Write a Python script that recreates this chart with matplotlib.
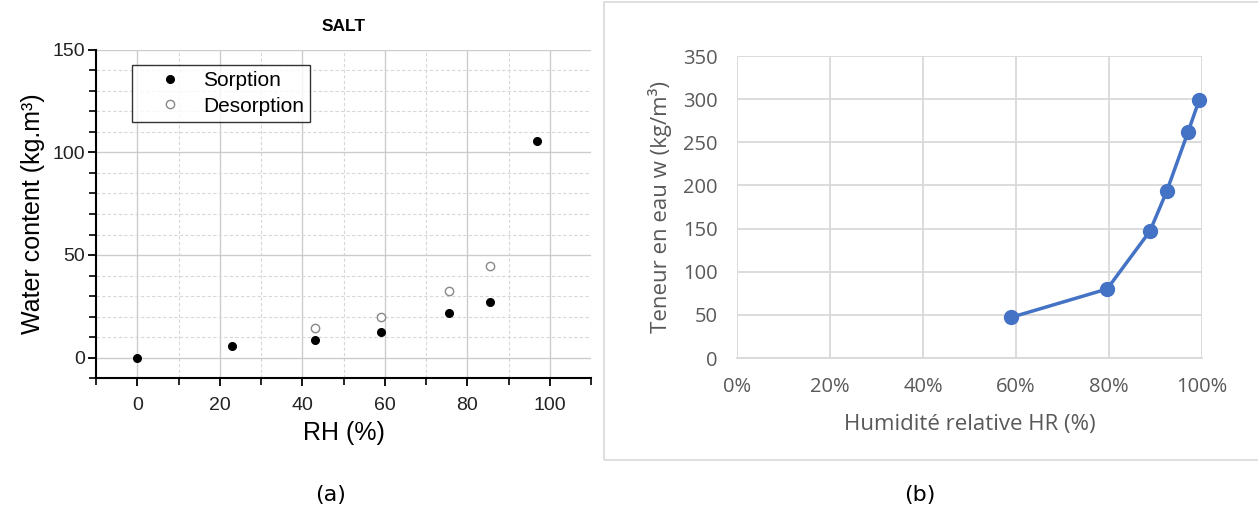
import matplotlib
matplotlib.use("Agg")
import matplotlib.pyplot as plt
from matplotlib.ticker import MultipleLocator, FixedLocator, PercentFormatter
from matplotlib.patches import Rectangle

# (a) SALT sorption / desorption
rh_sorp = [0, 23, 43, 59, 75.5, 85.5, 97]
w_sorp = [0, 5.5, 8.5, 12.5, 21.5, 27, 105.5]
rh_desorp = [43, 59, 75.5, 85.5]
w_desorp = [14.5, 20, 32.5, 44.5]

# (b) Excel curve
hr = [0.589, 0.796, 0.888, 0.924, 0.970, 0.994]
w = [47, 80, 147, 193, 262, 299]

fig = plt.figure(figsize=(12.58, 5.13), dpi=100)

# ---------- left panel ----------
arial = "Liberation Sans"
ax1 = fig.add_axes([96 / 1258, 1 - 378 / 513, 495 / 1258, 328 / 513])
ax1.set_xlim(-10, 110)
ax1.set_ylim(-10, 150)
ax1.xaxis.set_major_locator(FixedLocator([0, 20, 40, 60, 80, 100]))
ax1.xaxis.set_minor_locator(FixedLocator([-10, 10, 30, 50, 70, 90, 110]))
ax1.yaxis.set_major_locator(FixedLocator([0, 50, 100, 150]))
ax1.yaxis.set_minor_locator(FixedLocator([-10, 10, 20, 30, 40, 60, 70, 80, 90,
                                          110, 120, 130, 140]))
ax1.grid(which="major", color="#cccccc", linewidth=1.0, linestyle="-")
ax1.grid(which="minor", color="#d8d8d8", linewidth=0.8, linestyle=(0, (3, 2)))
ax1.set_axisbelow(True)
for s in ["top", "right"]:
    ax1.spines[s].set_visible(False)
for s in ["left", "bottom"]:
    ax1.spines[s].set_linewidth(1.5)
ax1.tick_params(which="major", direction="out", length=6, width=1.3,
                labelsize=14, pad=2, labelcolor="#222222")
ax1.tick_params(axis="x", which="major", pad=8)
ax1.tick_params(which="minor", direction="out", length=5, width=1.2)
for lab in ax1.get_xticklabels() + ax1.get_yticklabels():
    lab.set_family(arial)

ax1.plot(rh_sorp, w_sorp, "o", color="black", markersize=5.5, label="Sorption",
         zorder=3)
ax1.plot(rh_desorp, w_desorp, "o", markerfacecolor="white",
         markeredgecolor="#888888", markeredgewidth=1.0, markersize=6,
         label="Desorption", zorder=3)

ax1.set_xlabel("RH (%)", fontsize=18, family=arial, labelpad=5)
ax1.set_ylabel("Water content (kg.m³)", fontsize=18, family=arial, labelpad=5)
ax1.set_title("SALT", fontsize=12.5, fontweight="bold", family=arial, pad=14)

leg = ax1.legend(loc="upper left", bbox_to_anchor=(0.073, 0.954),
                 prop={"family": arial, "size": 15}, frameon=True,
                 fancybox=False, edgecolor="black", borderpad=0.3,
                 handlelength=3.0, handletextpad=0.1, labelspacing=0.3,
                 borderaxespad=0)
leg.get_frame().set_linewidth(1.0)

# ---------- right panel ----------
fig.patches.append(Rectangle((604 / 1258, 1 - 460 / 513), 700 / 1258, 458 / 513,
                             transform=fig.transFigure, fill=False,
                             edgecolor="#d9d9d9", linewidth=1.2))
osans = "Open Sans"
ax2 = fig.add_axes([737 / 1258, 1 - 358 / 513, 465 / 1258, 302 / 513])
ax2.set_xlim(0, 1)
ax2.set_ylim(0, 350)
ax2.xaxis.set_major_locator(MultipleLocator(0.2))
ax2.yaxis.set_major_locator(MultipleLocator(50))
ax2.xaxis.set_major_formatter(PercentFormatter(1.0, decimals=0))
ax2.grid(color="#d9d9d9", linewidth=1.3)
ax2.set_axisbelow(True)
for s in ["top", "right", "left"]:
    ax2.spines[s].set_visible(False)
ax2.spines["bottom"].set_color("#d9d9d9")
ax2.spines["bottom"].set_linewidth(1.3)
ax2.tick_params(length=0, labelsize=14.5, labelcolor="#595959", pad=14)
for lab in ax2.get_xticklabels() + ax2.get_yticklabels():
    lab.set_family(osans)

ax2.plot(hr, w, "-o", color="#4472C4", linewidth=2.5, markersize=10,
         zorder=3, clip_on=False)
ax2.set_xlabel("Humidité relative HR (%)", fontsize=16, family=osans,
               color="#595959", labelpad=12)
ax2.set_ylabel("Teneur en eau w (kg/m³)", fontsize=16, family=osans,
               color="#595959", labelpad=8)

# captions
fig.text(331 / 1258, 1 - 495 / 513, "(a)", fontsize=16, family="DejaVu Sans",
         ha="center", va="center")
fig.text(920 / 1258, 1 - 495 / 513, "(b)", fontsize=16, family="DejaVu Sans",
         ha="center", va="center")

fig.savefig("out.png", dpi=100)
